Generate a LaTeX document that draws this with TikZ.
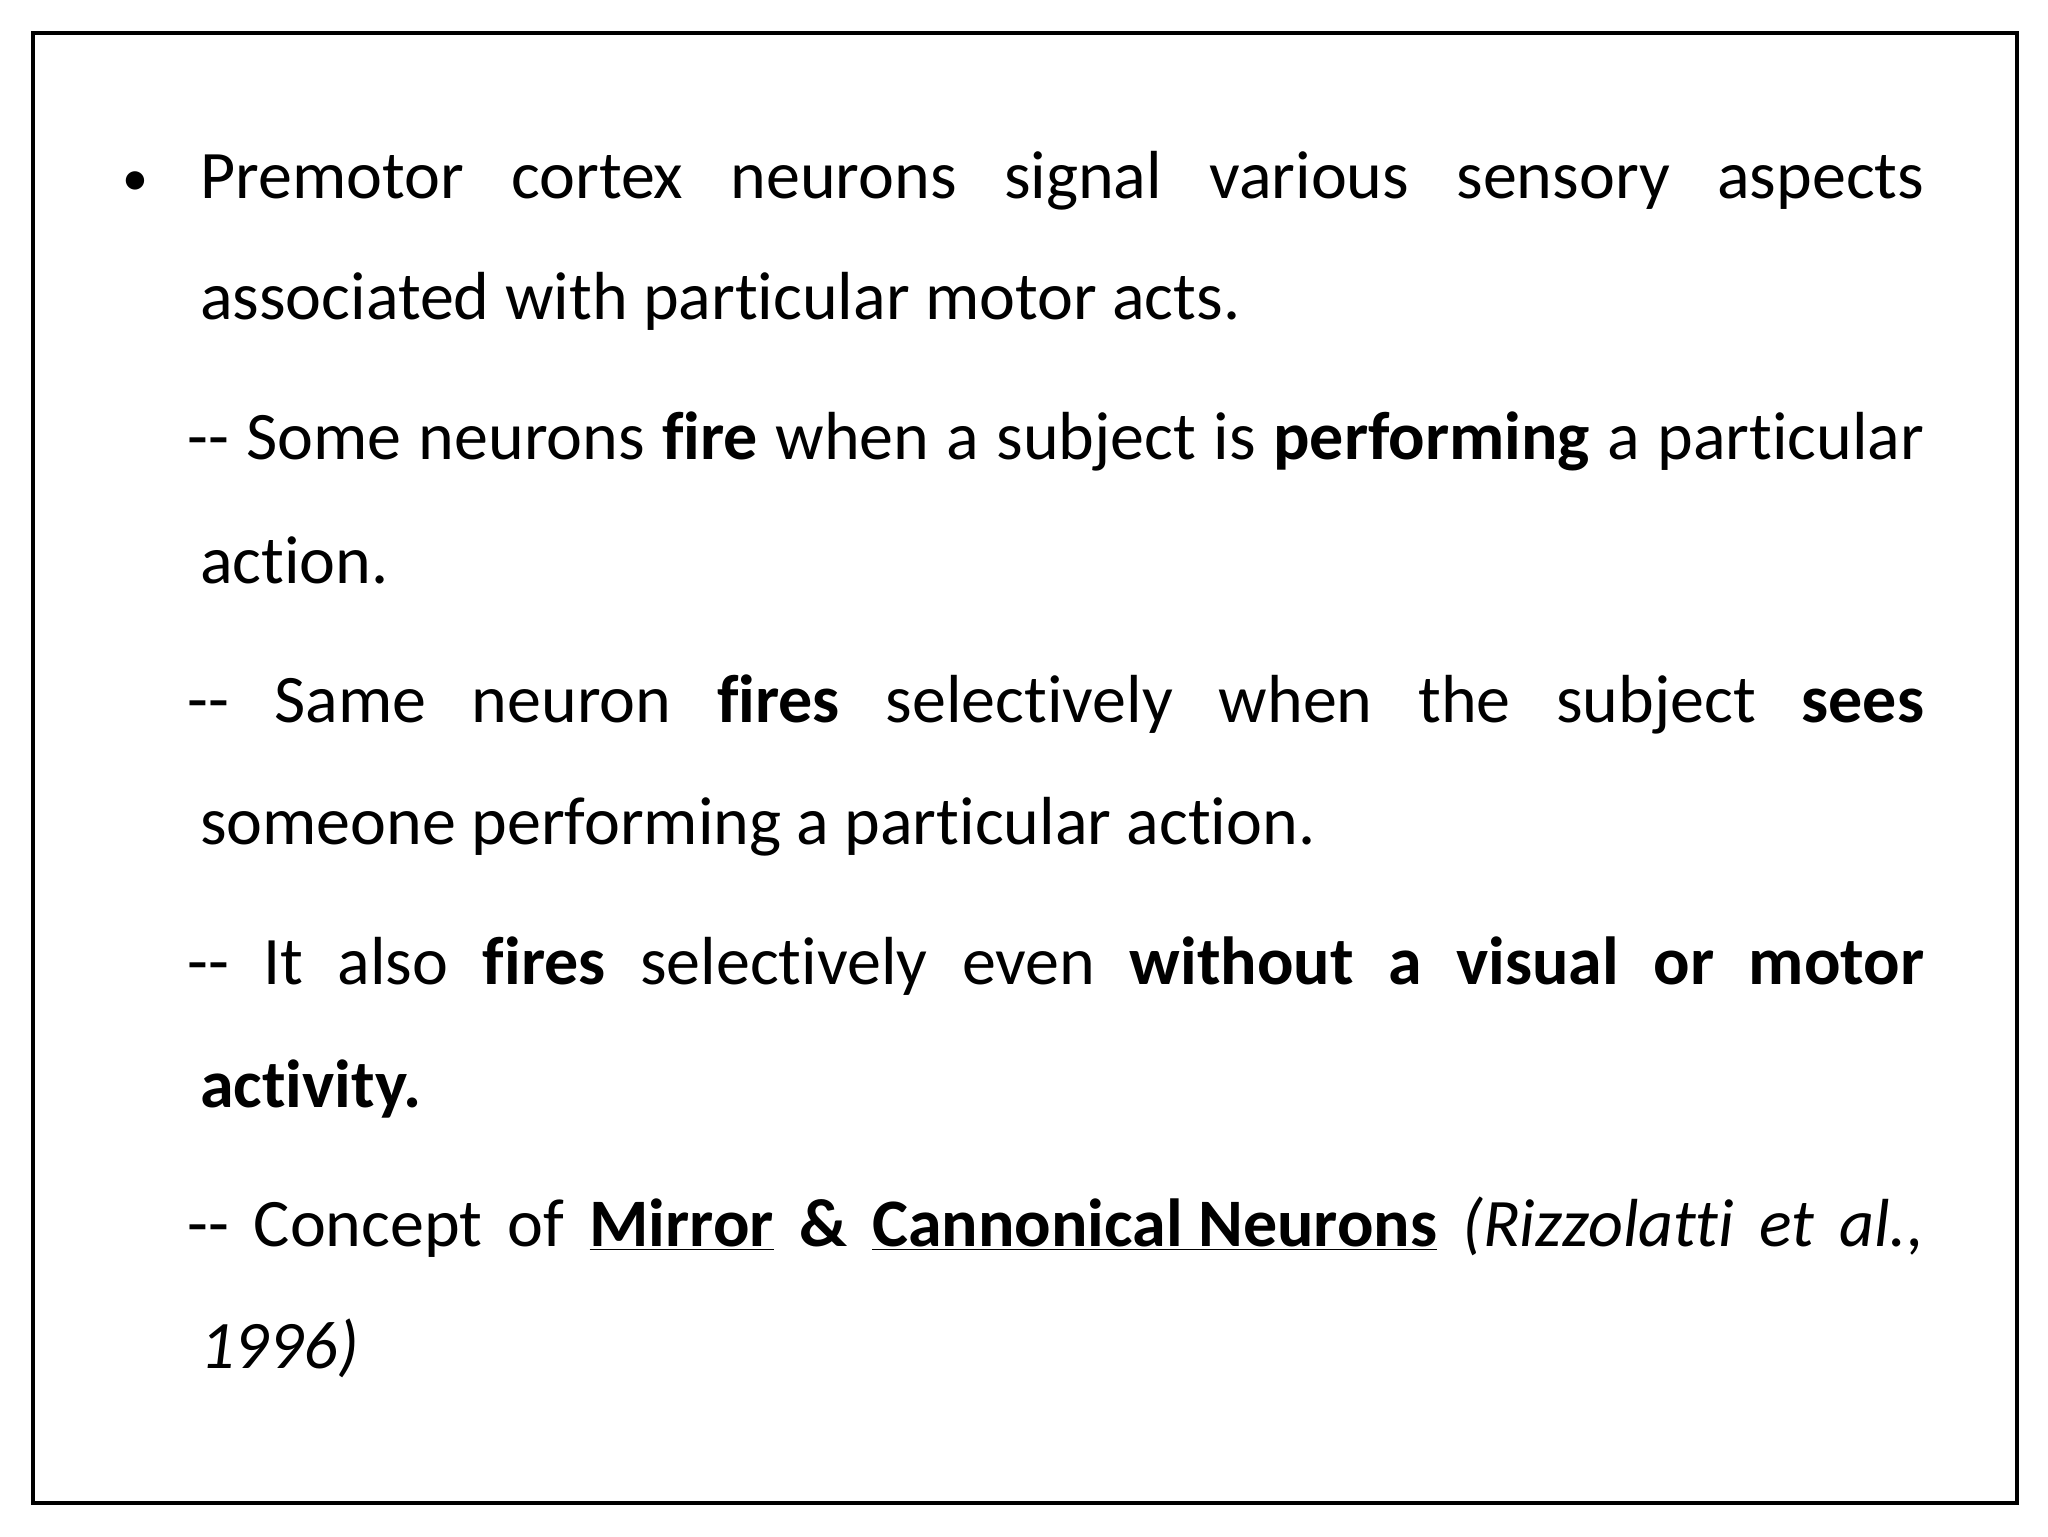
\documentclass[tikz,border=0pt]{standalone}
\usepackage{fontspec}
\setmainfont{Carlito}[Ligatures={NoCommon,TeX}]
\begin{document}
\begin{tikzpicture}[x=1pt,y=1pt,
  txt/.style={anchor=base west,inner sep=0pt,font=\fontsize{34}{40}\selectfont}]
\useasboundingbox (0,0) rectangle (1024,768);
\fill[white] (0,0) rectangle (1024,768);
\draw[line width=2pt] (16.3,16.3) rectangle (1008.5,751.7);
\def\W{862}
\def\WD{868.5}
\node[txt,font=\fontsize{26}{30}\selectfont] (b) at (61,670) {•};
\node[txt] (l1) at (99.9,668.7) {\makebox[\W pt][s]{Premotor cortex neurons signal various sensory aspects}};
\node[txt] (l2) at (99.9,608.0) {associated with particular motor acts.};
\node[txt] (l3) at (93.4,538.1) {\makebox[\WD pt][s]{-{}- Some neurons \textbf{fire} when a subject is \textbf{performing} a particular}};
\node[txt] (l4) at (99.9,476.1) {action.};
\node[txt] (l5) at (93.4,406.9) {\makebox[\WD pt][s]{-{}- Same neuron \textbf{fires} selectively when the subject \textbf{sees}}};
\node[txt] (l6) at (99.9,345.5) {someone performing a particular action.};
\node[txt] (l7) at (93.4,275.6) {\makebox[\WD pt][s]{-{}- It also \textbf{fires} selectively even \textbf{without a visual or motor}}};
\node[txt] (l8) at (99.9,214.3) {\textbf{activity.}};
\node[txt] (l9) at (93.4,145.0) {\makebox[\WD pt][s]{-{}- Concept of \textbf{\underline{Mirror}} \textbf{\&} \textbf{\underline{Cannonical Neurons}} \textit{(Rizzolatti et al.,}}};
\node[txt] (l10) at (99.9,83.7) {\textit{1996)}};
\end{tikzpicture}
\end{document}
